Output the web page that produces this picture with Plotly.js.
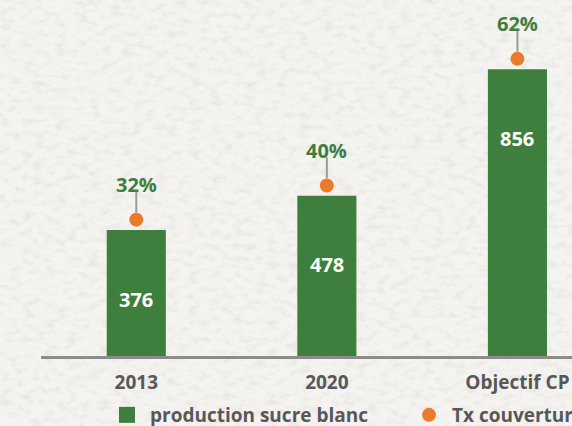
<!DOCTYPE html>
<html>
<head>
<meta charset="utf-8">
<script src="https://cdn.plot.ly/plotly-3.0.1.min.js"></script>
<style>
  html, body { margin: 0; padding: 0; overflow: hidden; width: 572px; height: 426px; }
  body {
    background-color: #f4f3f0;
    background-image: url("data:image/svg+xml;utf8,<svg xmlns='http://www.w3.org/2000/svg' width='572' height='426'><filter id='n' x='0' y='0' width='100%' height='100%'><feTurbulence type='fractalNoise' baseFrequency='0.09 0.16' numOctaves='4' seed='7'/><feColorMatrix values='0 0 0 0 0.6 0 0 0 0 0.59 0 0 0 0 0.57 0.8 0 0 0 -0.37'/></filter><rect width='100%' height='100%' filter='url(%23n)'/></svg>");
  }
  #chart { width: 760px; height: 440px; }
</style>
</head>
<body>
<div id="chart"></div>
<script>
// Production of white sugar (thousand tonnes) and coverage rate
const categories = ['2013', '2020', 'Objectif CP'];
const production = [376, 478, 856];
const couverture = [32, 40, 62];
const couvertureLabels = ['32%', '40%', '62%'];

const GREEN = '#3e7f3d';
const ORANGE = '#ec7a2c';
const GREY_TEXT = '#58585a';
const FONT = 'Open Sans, Arial, sans-serif';

// Dots sit just above each bar: same values, drawn on an overlaid axis shifted up a little
const DOT_LIFT = 31;       // in production units (~10 px)
const DOT_PX = 10.5;       // same lift in pixels, for labels and connectors
const LABEL_PX = 35;       // distance from dot centre to the percentage label

const barTrace = {
  type: 'bar',
  x: categories,
  y: production,
  marker: { color: GREEN },
  width: 0.31,
  showlegend: false,
  hoverinfo: 'x+y'
};

// Legend key for the bars (a larger square than the default bar swatch)
const barKey = {
  type: 'scatter',
  mode: 'markers',
  x: [null],
  y: [null],
  name: 'production sucre blanc',
  marker: { symbol: 'square', size: 18, color: GREEN }
};

const dotTrace = {
  type: 'scatter',
  mode: 'markers',
  x: categories,
  y: production,
  yaxis: 'y2',
  name: 'Tx couverture',
  customdata: couverture,
  hovertemplate: '%{x}: %{customdata}%<extra></extra>',
  marker: { color: ORANGE, size: 14 }
};

const annotations = [];
const shapes = [];
categories.forEach((c, i) => {
  // value inside the bar (category axis position = index)
  annotations.push({
    x: i, y: production[i], xref: 'x', yref: 'y',
    text: String(production[i]), showarrow: false,
    yshift: -69, yanchor: 'middle',
    font: { family: FONT, size: 20, color: '#ffffff', weight: 700 }
  });
  // coverage percentage above the dot
  annotations.push({
    x: i, y: production[i], xref: 'x', yref: 'y',
    text: couvertureLabels[i], showarrow: false,
    yshift: DOT_PX + LABEL_PX, yanchor: 'middle',
    font: { family: FONT, size: 20, color: GREEN, weight: 700 }
  });
  // thin connector between label and dot
  shapes.push({
    type: 'line', xref: 'x', yref: 'y',
    x0: i, x1: i,
    ysizemode: 'pixel', yanchor: production[i],
    y0: DOT_PX + 7, y1: DOT_PX + 28,
    line: { color: '#9b9b9b', width: 2 }
  });
});

const layout = {
  width: 760,
  height: 440,
  margin: { l: 41, r: 52, t: 21, b: 84 },
  paper_bgcolor: 'rgba(0,0,0,0)',
  plot_bgcolor: 'rgba(0,0,0,0)',
  font: { family: FONT, color: GREY_TEXT },
  xaxis: {
    type: 'category',
    range: [-0.5, 3.0],
    showline: true,
    linecolor: '#8c8c8c',
    linewidth: 2.5,
    showgrid: false,
    zeroline: false,
    ticks: '',
    ticklabelstandoff: 8,
    tickfont: { family: FONT, size: 19, color: GREY_TEXT, weight: 700 },
    fixedrange: true
  },
  yaxis: {
    range: [0, 1000],
    visible: false,
    showgrid: false,
    zeroline: false,
    fixedrange: true
  },
  yaxis2: {
    overlaying: 'y',
    range: [-DOT_LIFT, 1000 - DOT_LIFT],
    visible: false,
    showgrid: false,
    zeroline: false,
    fixedrange: true
  },
  showlegend: true,
  legend: {
    orientation: 'h',
    xref: 'container', yref: 'container',
    x: 104 / 760, xanchor: 'left',
    y: 1 - 415 / 440, yanchor: 'middle',
    itemwidth: 36,
    entrywidth: 251,
    entrywidthmode: 'pixels',
    bgcolor: 'rgba(0,0,0,0)',
    font: { family: FONT, size: 19, color: GREY_TEXT, weight: 700 },
    itemclick: false,
    itemdoubleclick: false
  },
  annotations: annotations,
  shapes: shapes
};

Plotly.newPlot('chart', [barTrace, barKey, dotTrace], layout, { displayModeBar: false, staticPlot: true });
</script>
</body>
</html>
